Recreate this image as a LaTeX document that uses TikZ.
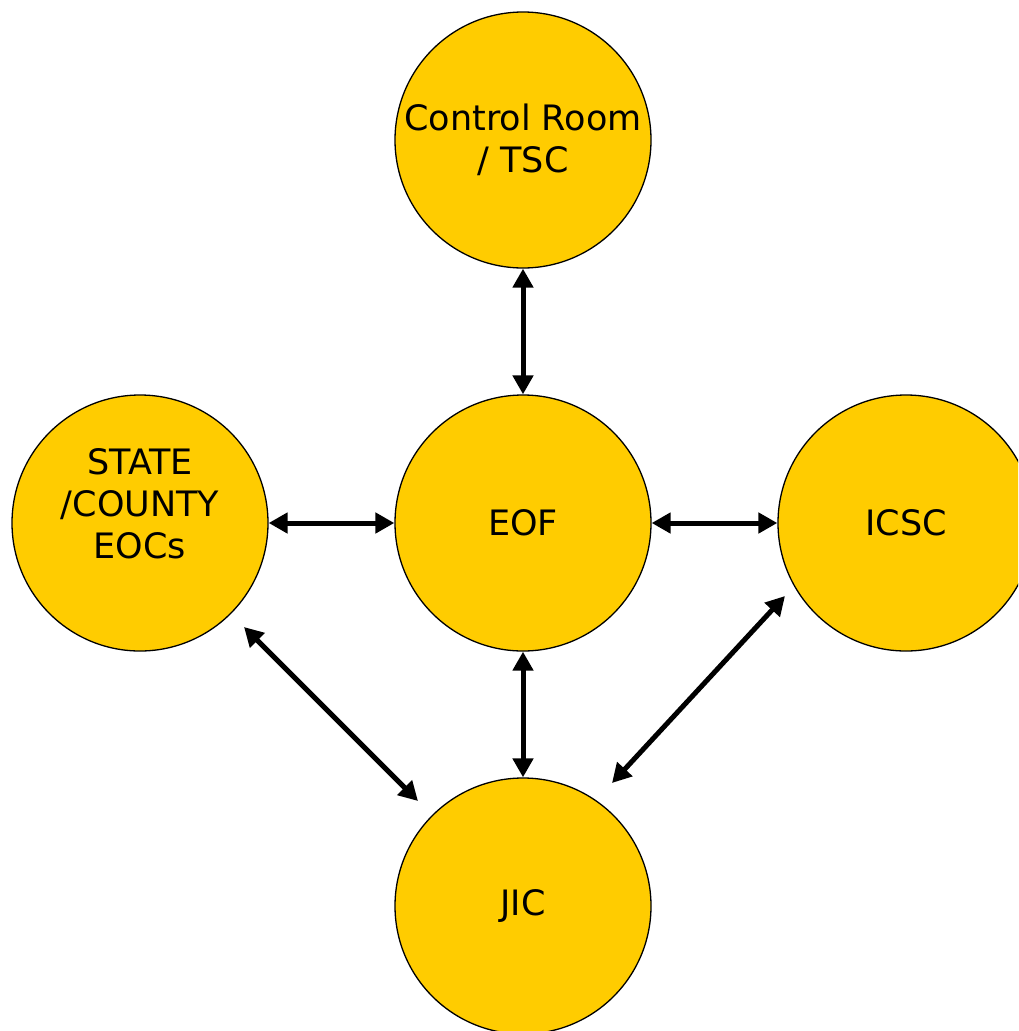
\documentclass[tikz,border=0pt]{standalone}
\usepackage{fontspec}
\setmainfont{DejaVu Sans}
\usetikzlibrary{arrows.meta}
\definecolor{gold}{HTML}{FFCC00}
\tikzset{
  hubfont/.style={font=\fontsize{35}{42}\selectfont},
  hub/.style={circle, draw=black, line width=1.3pt, fill=gold, minimum size=256pt, inner sep=0pt,
    align=center, hubfont},
  link/.style={line width=5pt, {Triangle[length=19pt,width=20pt]}-{Triangle[length=19pt,width=20pt]}}
}
\begin{document}
\begin{tikzpicture}[x=1pt,y=-1pt]
\useasboundingbox (0,0) rectangle (1018,1031);
\clip (0,0) rectangle (1018,1031);
\node[hub] (cr) at (523,140) {Control Room\\/ TSC};
\node[hub] (eof) at (523,523) {EOF};
\node[hub, label={[hubfont, align=center, yshift=19pt]center:STATE\\/COUNTY\\EOCs}] (state) at (140,523) {};
\node[hub] (icsc) at (906,523) {ICSC};
\node[hub] (jic) at (523,906) {JIC};
\coordinate (s1) at (244,627);
\coordinate (j1) at (418,801);
\coordinate (i2) at (785,596);
\coordinate (j2) at (612,783);
\draw[link] (cr) -- (eof);
\draw[link] (state) -- (eof);
\draw[link] (eof) -- (icsc);
\draw[link] (eof) -- (jic);
\draw[link] (s1) -- (j1);
\draw[link] (i2) -- (j2);
\end{tikzpicture}
\end{document}
